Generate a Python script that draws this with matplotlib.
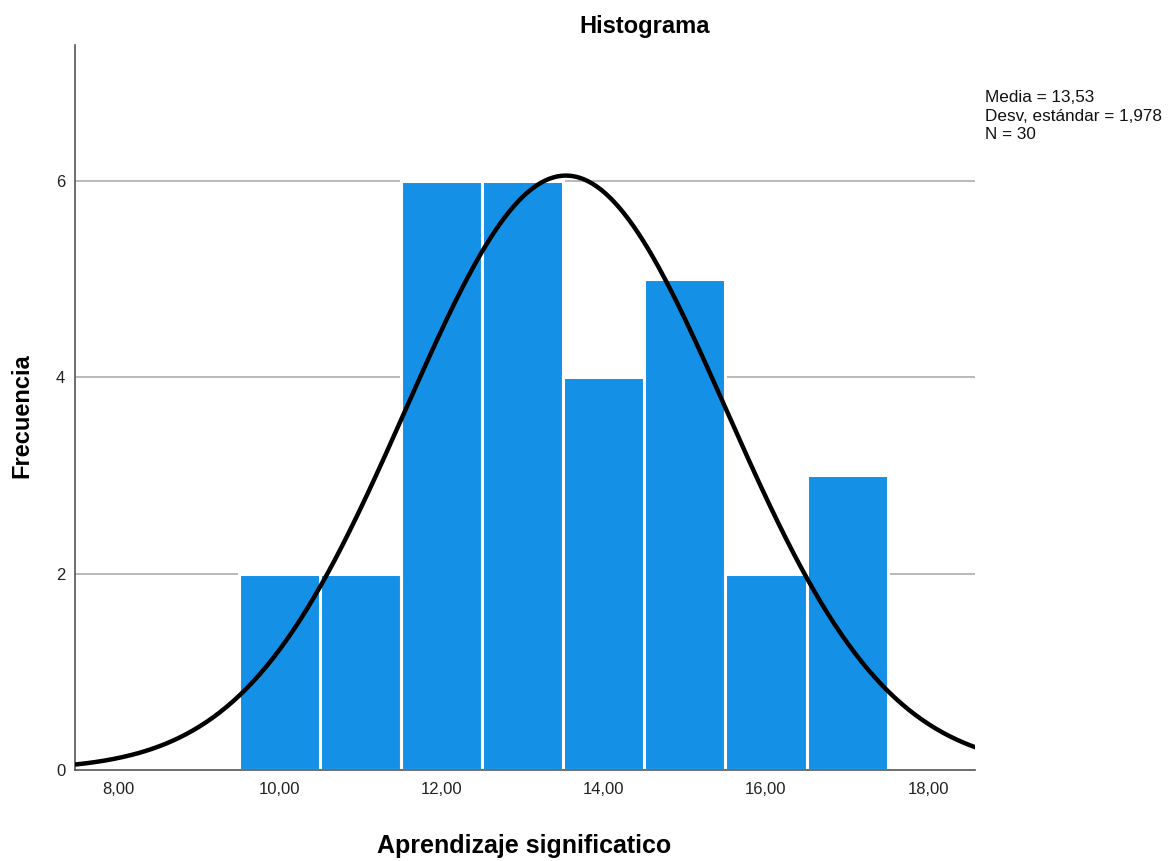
import numpy as np
import matplotlib
matplotlib.use("Agg")
import matplotlib.pyplot as plt
from matplotlib import font_manager

# SPSS renders with a condensed Arial look; use a narrow family if present
_names = {f.name for f in font_manager.fontManager.ttflist}
NARROW = "Liberation Sans Narrow" if "Liberation Sans Narrow" in _names else "Liberation Sans"
plt.rcParams["font.family"] = [NARROW, "DejaVu Sans"]

# ── data ─────────────────────────────────────────────────────────────────────
bin_centers = [10, 11, 12, 13, 14, 15, 16, 17]
counts = [2, 2, 6, 6, 4, 5, 2, 3]
mean = 13.53
std = 1.978
n_obs = 30
x_ticks = [8, 10, 12, 14, 16, 18]
x_tick_labels = ["8,00", "10,00", "12,00", "14,00", "16,00", "18,00"]
y_ticks = [0, 2, 4, 6]

BAR_COLOR = "#1490E6"
GRID_COLOR = "#B4B4B4"
AXIS_COLOR = "#555555"

fig = plt.figure(figsize=(11.73, 8.61), dpi=100)
ax = fig.add_axes([75 / 1173, 91 / 861, 900 / 1173, 725 / 861])

ax.bar(bin_centers, counts, width=1.0, color=BAR_COLOR,
       edgecolor="white", linewidth=2.2, zorder=2)

# normal curve scaled to counts (bin width 1)
xs = np.linspace(7.47, 18.6, 400)
pdf = n_obs * 1.0 / (std * np.sqrt(2 * np.pi)) * np.exp(-0.5 * ((xs - mean) / std) ** 2)
ax.plot(xs, pdf, color="black", linewidth=3.2, zorder=3, solid_capstyle="butt")

ax.set_xlim(7.47, 18.58)
ax.set_ylim(0, 7.38)
ax.set_xticks(x_ticks)
ax.set_xticklabels(x_tick_labels)
ax.set_yticks(y_ticks)
ax.tick_params(length=0, labelsize=12, colors="#222222", pad=9)
ax.tick_params(axis="y", pad=7)

for y in y_ticks[1:]:
    ax.axhline(y, color=GRID_COLOR, linewidth=1.3, zorder=1)

for side in ("top", "right"):
    ax.spines[side].set_visible(False)
for side in ("left", "bottom"):
    ax.spines[side].set_color(AXIS_COLOR)
    ax.spines[side].set_linewidth(1.2)

fig.text(645 / 1173, 1 - 26 / 861, "Histograma", ha="center", va="center",
         fontsize=17, fontweight="bold")
fig.text(22 / 1173, 1 - 416 / 861, "Frecuencia", ha="center", va="center",
         rotation=90, fontsize=17, fontweight="bold")
fig.text(524 / 1173, 1 - 846 / 861, "Aprendizaje significatico", ha="center",
         va="center", fontsize=18, fontweight="bold")

stats = (f"Media = {mean:.2f}".replace(".", ",") + "\n"
         + f"Desv. estándar = {std:.3f}".replace(".", ",") + "\n"
         + f"N = {n_obs}")
fig.text(985 / 1173, 1 - 90 / 861, stats, ha="left", va="top",
         fontsize=12.3, linespacing=1.3, color="#111111")

fig.savefig("out.png", dpi=100)
